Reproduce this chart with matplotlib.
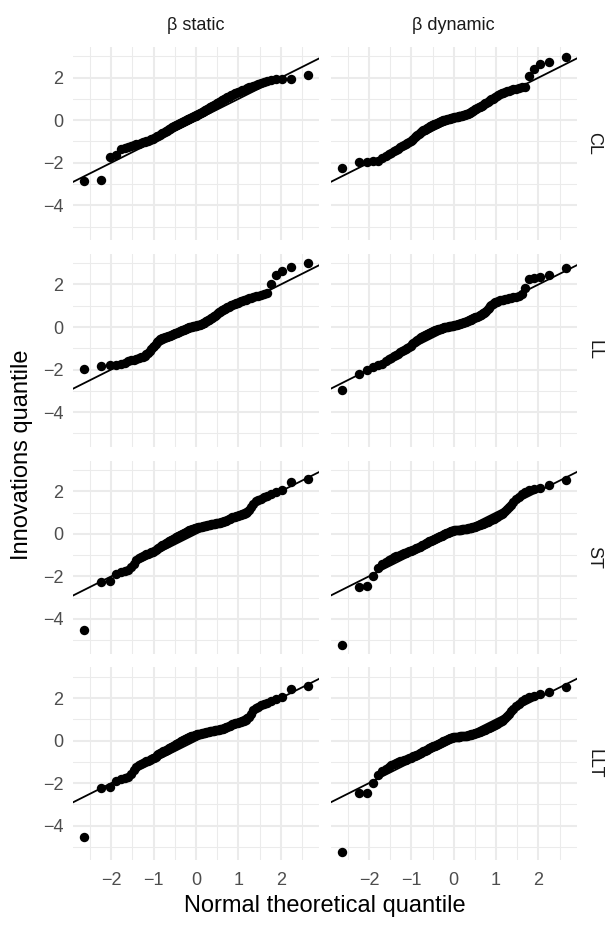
import numpy as np
import matplotlib
matplotlib.use("Agg")
import matplotlib.pyplot as plt
from statistics import NormalDist

plt.rcParams["font.family"] = ["Liberation Sans", "DejaVu Sans"]

# facet labels
models = ["CL", "LL", "ST", "LLT"]
betas = ["β static", "β dynamic"]

# sorted standardized innovations (sample quantiles), 120 per model/specification
cl_static = [
    -2.88, -2.80, -1.72, -1.62, -1.34, -1.30, -1.26, -1.21, -1.17, -1.13,
    -1.10, -1.06, -1.04, -1.01, -0.98, -0.96, -0.93, -0.90, -0.86, -0.82,
    -0.79, -0.75, -0.72, -0.68, -0.65, -0.62, -0.58, -0.55, -0.52, -0.49,
    -0.46, -0.43, -0.40, -0.37, -0.34, -0.31, -0.29, -0.26, -0.24, -0.21,
    -0.19, -0.16, -0.14, -0.12, -0.10, -0.07, -0.05, -0.03, -0.01, 0.02,
    0.04, 0.06, 0.08, 0.10, 0.12, 0.14, 0.16, 0.18, 0.20, 0.22,
    0.24, 0.26, 0.28, 0.30, 0.33, 0.35, 0.37, 0.40, 0.42, 0.45,
    0.47, 0.50, 0.52, 0.55, 0.58, 0.60, 0.63, 0.65, 0.68, 0.70,
    0.73, 0.76, 0.79, 0.81, 0.84, 0.87, 0.90, 0.93, 0.96, 0.99,
    1.02, 1.05, 1.08, 1.11, 1.14, 1.17, 1.20, 1.23, 1.26, 1.29,
    1.32, 1.35, 1.38, 1.41, 1.44, 1.47, 1.50, 1.54, 1.58, 1.62,
    1.66, 1.71, 1.76, 1.81, 1.86, 1.89, 1.92, 1.94, 1.95, 2.14,
]
cl_dynamic = [
    -2.26, -1.98, -1.96, -1.94, -1.91, -1.80, -1.68, -1.60, -1.53, -1.46,
    -1.40, -1.34, -1.28, -1.22, -1.16, -1.11, -1.06, -1.01, -0.96, -0.91,
    -0.86, -0.81, -0.76, -0.71, -0.66, -0.61, -0.56, -0.52, -0.47, -0.44,
    -0.41, -0.38, -0.35, -0.32, -0.29, -0.27, -0.24, -0.22, -0.20, -0.18,
    -0.16, -0.14, -0.12, -0.10, -0.08, -0.06, -0.04, -0.03, -0.01, 0.00,
    0.02, 0.03, 0.05, 0.06, 0.07, 0.08, 0.09, 0.10, 0.11, 0.12,
    0.13, 0.14, 0.15, 0.16, 0.17, 0.18, 0.19, 0.20, 0.21, 0.22,
    0.23, 0.24, 0.26, 0.27, 0.29, 0.31, 0.33, 0.35, 0.38, 0.40,
    0.43, 0.45, 0.48, 0.51, 0.54, 0.57, 0.60, 0.63, 0.66, 0.69,
    0.72, 0.76, 0.79, 0.83, 0.87, 0.90, 0.94, 0.98, 1.02, 1.06,
    1.10, 1.14, 1.18, 1.22, 1.26, 1.30, 1.33, 1.36, 1.39, 1.42,
    1.45, 1.48, 1.51, 1.54, 1.58, 2.10, 2.41, 2.65, 2.73, 2.99,
]
ll_static = [
    -1.99, -1.84, -1.80, -1.77, -1.72, -1.67, -1.62, -1.57, -1.53, -1.49,
    -1.46, -1.43, -1.39, -1.34, -1.27, -1.20, -1.12, -1.04, -0.96, -0.88,
    -0.80, -0.72, -0.65, -0.58, -0.55, -0.53, -0.51, -0.49, -0.47, -0.46,
    -0.44, -0.42, -0.40, -0.38, -0.36, -0.34, -0.32, -0.30, -0.28, -0.26,
    -0.24, -0.22, -0.20, -0.18, -0.16, -0.14, -0.12, -0.10, -0.08, -0.06,
    -0.04, -0.03, -0.01, 0.00, 0.01, 0.02, 0.03, 0.04, 0.05, 0.06,
    0.07, 0.08, 0.09, 0.10, 0.11, 0.13, 0.15, 0.17, 0.19, 0.21,
    0.23, 0.26, 0.29, 0.32, 0.35, 0.38, 0.41, 0.44, 0.47, 0.51,
    0.54, 0.58, 0.62, 0.65, 0.69, 0.72, 0.75, 0.78, 0.81, 0.84,
    0.87, 0.90, 0.93, 0.96, 0.99, 1.02, 1.05, 1.08, 1.10, 1.13,
    1.15, 1.18, 1.20, 1.23, 1.26, 1.29, 1.32, 1.35, 1.38, 1.41,
    1.44, 1.48, 1.52, 1.57, 1.62, 2.00, 2.45, 2.62, 2.83, 3.03,
]
ll_dynamic = [
    -2.98, -2.20, -2.04, -1.90, -1.80, -1.72, -1.62, -1.52, -1.45, -1.38,
    -1.32, -1.25, -1.19, -1.13, -1.07, -1.02, -0.97, -0.92, -0.87, -0.82,
    -0.77, -0.72, -0.67, -0.62, -0.57, -0.53, -0.49, -0.45, -0.42, -0.39,
    -0.36, -0.33, -0.31, -0.28, -0.26, -0.24, -0.22, -0.20, -0.18, -0.16,
    -0.14, -0.13, -0.11, -0.10, -0.08, -0.07, -0.06, -0.04, -0.03, -0.02,
    -0.01, 0.00, 0.01, 0.02, 0.03, 0.04, 0.05, 0.05, 0.06, 0.07,
    0.08, 0.09, 0.10, 0.11, 0.12, 0.13, 0.14, 0.16, 0.17, 0.19,
    0.20, 0.22, 0.23, 0.25, 0.27, 0.29, 0.31, 0.33, 0.35, 0.37,
    0.39, 0.41, 0.43, 0.45, 0.47, 0.49, 0.52, 0.55, 0.58, 0.61,
    0.64, 0.67, 0.71, 0.76, 0.83, 0.90, 0.98, 1.05, 1.10, 1.13,
    1.16, 1.19, 1.22, 1.25, 1.27, 1.29, 1.31, 1.33, 1.35, 1.37,
    1.40, 1.43, 1.48, 1.55, 1.85, 2.25, 2.30, 2.33, 2.45, 2.78,
]
st_static = [
    -4.52, -2.25, -2.20, -1.89, -1.80, -1.76, -1.70, -1.56, -1.40, -1.22,
    -1.14, -1.09, -1.04, -1.00, -0.97, -0.94, -0.90, -0.87, -0.84, -0.80,
    -0.75, -0.70, -0.65, -0.60, -0.57, -0.54, -0.51, -0.48, -0.45, -0.42,
    -0.39, -0.36, -0.33, -0.30, -0.28, -0.25, -0.23, -0.20, -0.17, -0.14,
    -0.12, -0.09, -0.07, -0.04, -0.02, 0.01, 0.03, 0.06, 0.08, 0.10,
    0.12, 0.14, 0.16, 0.18, 0.20, 0.21, 0.23, 0.24, 0.26, 0.27,
    0.28, 0.29, 0.30, 0.31, 0.32, 0.33, 0.34, 0.35, 0.36, 0.37,
    0.38, 0.39, 0.40, 0.41, 0.42, 0.43, 0.44, 0.45, 0.46, 0.47,
    0.48, 0.49, 0.50, 0.51, 0.52, 0.53, 0.54, 0.55, 0.56, 0.58,
    0.60, 0.62, 0.65, 0.68, 0.71, 0.74, 0.77, 0.79, 0.81, 0.83,
    0.85, 0.87, 0.89, 0.91, 0.94, 0.98, 1.04, 1.12, 1.25, 1.42,
    1.52, 1.60, 1.66, 1.72, 1.79, 1.86, 1.97, 2.05, 2.43, 2.58,
]
st_dynamic = [
    -5.22, -2.48, -2.44, -1.99, -1.60, -1.42, -1.32, -1.24, -1.17, -1.11,
    -1.06, -1.02, -0.98, -0.95, -0.92, -0.89, -0.86, -0.83, -0.80, -0.77,
    -0.74, -0.72, -0.69, -0.66, -0.63, -0.60, -0.57, -0.54, -0.51, -0.48,
    -0.45, -0.42, -0.39, -0.36, -0.34, -0.32, -0.29, -0.27, -0.25, -0.23,
    -0.21, -0.19, -0.17, -0.15, -0.12, -0.10, -0.08, -0.06, -0.04, -0.02,
    0.00, 0.02, 0.04, 0.06, 0.08, 0.10, 0.11, 0.13, 0.14, 0.15,
    0.16, 0.17, 0.17, 0.18, 0.18, 0.19, 0.19, 0.20, 0.20, 0.21,
    0.21, 0.22, 0.23, 0.23, 0.24, 0.25, 0.26, 0.27, 0.28, 0.29,
    0.30, 0.31, 0.33, 0.34, 0.36, 0.38, 0.40, 0.42, 0.44, 0.46,
    0.48, 0.50, 0.52, 0.54, 0.57, 0.60, 0.63, 0.66, 0.69, 0.72,
    0.75, 0.79, 0.83, 0.87, 0.92, 0.98, 1.06, 1.15, 1.25, 1.37,
    1.49, 1.62, 1.74, 1.86, 1.97, 2.06, 2.11, 2.17, 2.30, 2.53,
]
llt_static = [
    -4.52, -2.25, -2.20, -1.89, -1.80, -1.76, -1.70, -1.56, -1.40, -1.22,
    -1.14, -1.09, -1.04, -1.00, -0.97, -0.94, -0.90, -0.87, -0.84, -0.80,
    -0.75, -0.70, -0.65, -0.60, -0.57, -0.54, -0.51, -0.48, -0.45, -0.42,
    -0.39, -0.36, -0.33, -0.30, -0.28, -0.25, -0.23, -0.20, -0.17, -0.14,
    -0.12, -0.09, -0.07, -0.04, -0.02, 0.01, 0.03, 0.06, 0.08, 0.10,
    0.12, 0.14, 0.16, 0.18, 0.20, 0.21, 0.23, 0.24, 0.26, 0.27,
    0.28, 0.29, 0.30, 0.31, 0.32, 0.33, 0.34, 0.35, 0.36, 0.37,
    0.38, 0.39, 0.40, 0.41, 0.42, 0.43, 0.44, 0.45, 0.46, 0.47,
    0.48, 0.49, 0.50, 0.51, 0.52, 0.53, 0.54, 0.55, 0.56, 0.58,
    0.60, 0.62, 0.65, 0.68, 0.71, 0.74, 0.77, 0.79, 0.81, 0.83,
    0.85, 0.87, 0.89, 0.91, 0.94, 0.98, 1.04, 1.12, 1.25, 1.42,
    1.52, 1.60, 1.66, 1.72, 1.79, 1.86, 1.97, 2.05, 2.43, 2.58,
]
llt_dynamic = [
    -5.22, -2.48, -2.44, -1.99, -1.60, -1.42, -1.32, -1.24, -1.17, -1.11,
    -1.06, -1.02, -0.98, -0.95, -0.92, -0.89, -0.86, -0.83, -0.80, -0.77,
    -0.74, -0.72, -0.69, -0.66, -0.63, -0.60, -0.57, -0.54, -0.51, -0.48,
    -0.45, -0.42, -0.39, -0.36, -0.34, -0.32, -0.29, -0.27, -0.25, -0.23,
    -0.21, -0.19, -0.17, -0.15, -0.12, -0.10, -0.08, -0.06, -0.04, -0.02,
    0.00, 0.02, 0.04, 0.06, 0.08, 0.10, 0.11, 0.13, 0.14, 0.15,
    0.16, 0.17, 0.17, 0.18, 0.18, 0.19, 0.19, 0.20, 0.20, 0.21,
    0.21, 0.22, 0.23, 0.23, 0.24, 0.25, 0.26, 0.27, 0.28, 0.29,
    0.30, 0.31, 0.33, 0.34, 0.36, 0.38, 0.40, 0.42, 0.44, 0.46,
    0.48, 0.50, 0.52, 0.54, 0.57, 0.60, 0.63, 0.66, 0.69, 0.72,
    0.75, 0.79, 0.83, 0.87, 0.92, 0.98, 1.06, 1.15, 1.25, 1.37,
    1.49, 1.62, 1.74, 1.86, 1.97, 2.06, 2.11, 2.17, 2.30, 2.53,
]

x_ticks = [-2, -1, 0, 1, 2]
y_ticks = [-4, -2, 0, 2]

grid = [
    [cl_static, cl_dynamic],
    [ll_static, ll_dynamic],
    [st_static, st_dynamic],
    [llt_static, llt_dynamic],
]

# theoretical normal quantiles at plotting positions (i - 0.5) / n
n = len(cl_static)
probs = (np.arange(1, n + 1) - 0.5) / n
theo = np.array([NormalDist().inv_cdf(p) for p in probs])

# shared scales with 5% expansion on each side
all_y = np.concatenate([np.asarray(s) for row in grid for s in row])
y_lo, y_hi = all_y.min(), all_y.max()
y_pad = 0.05 * (y_hi - y_lo)
x_lo, x_hi = theo.min(), theo.max()
x_pad = 0.05 * (x_hi - x_lo)

W, H = 609, 925
fig = plt.figure(figsize=(W / 100, H / 100), dpi=100)
fig.patch.set_facecolor("white")

col_left = [73, 330.7]
panel_w = 246
row_top = [47, 253.8, 460.6, 667.4]
panel_h = 193

GRID = "#EBEBEB"
TICK = "#4D4D4D"
STRIP = "#1A1A1A"

for r, model in enumerate(models):
    for c, beta in enumerate(betas):
        ax = fig.add_axes([col_left[c] / W, 1 - (row_top[r] + panel_h) / H,
                           panel_w / W, panel_h / H])
        ax.set_facecolor("white")
        for sp in ax.spines.values():
            sp.set_visible(False)
        ax.set_xlim(x_lo - x_pad, x_hi + x_pad)
        ax.set_ylim(y_lo - y_pad, y_hi + y_pad)
        ax.set_xticks(x_ticks)
        ax.set_xticks([t + 0.5 for t in [-3] + x_ticks], minor=True)
        ax.set_yticks(y_ticks)
        ax.set_yticks([-5, -3, -1, 1, 3], minor=True)
        ax.grid(which="major", color=GRID, lw=1.5)
        ax.grid(which="minor", color=GRID, lw=0.75)
        ax.set_axisbelow(True)
        ax.tick_params(which="both", length=0, labelsize=13,
                       labelcolor=TICK)
        ax.tick_params(axis="x", pad=8)
        ax.tick_params(axis="y", pad=7)
        if r != len(models) - 1:
            ax.tick_params(labelbottom=False)
        if c != 0:
            ax.tick_params(labelleft=False)

        ax.scatter(theo, grid[r][c], s=46, color="black", linewidths=0,
                   zorder=3)
        ax.axline((0, 0), slope=1, color="black", lw=1.3, zorder=4)

        if r == 0:
            fig.text((col_left[c] + panel_w / 2) / W, 1 - 25 / H, beta,
                     ha="center", va="center", fontsize=13, color=STRIP)
        if c == len(betas) - 1:
            fig.text(594 / W, 1 - (row_top[r] + panel_h / 2) / H, model,
                     ha="center", va="center", rotation=-90, fontsize=13,
                     color=STRIP)

fig.text((col_left[0] + col_left[1] + panel_w) / 2 / W, 1 - 906 / H,
         "Normal theoretical quantile", ha="center", va="center",
         fontsize=17, color="black")
fig.text(22 / W, 1 - 455 / H, "Innovations quantile", ha="center",
         va="center", rotation=90, fontsize=17, color="black")

fig.savefig("out.png", dpi=100, facecolor="white")
